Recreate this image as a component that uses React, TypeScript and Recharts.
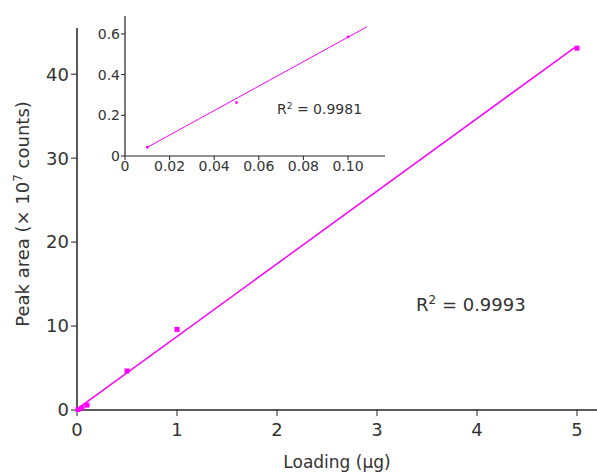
import React from "react";
import { ComposedChart, Scatter, Line, XAxis, YAxis } from "recharts";

// Main calibration data
const mainLoading = [0.01, 0.05, 0.1, 0.5, 1, 5];
const mainArea = [0.05, 0.26, 0.58, 4.65, 9.6, 43.1];
const mainFitX = [0, 4.98];
const mainFitY = [0.1, 43.2];
const mainXTicks = [0, 1, 2, 3, 4, 5];
const mainYTicks = [0, 10, 20, 30, 40];
const mainR2 = "0.9993";

// Inset data (low loading)
const insetLoading = [0.01, 0.05, 0.1];
const insetArea = [0.043, 0.263, 0.585];
const insetFitX = [0.0097, 0.1085];
const insetFitY = [0.041, 0.635];
const insetXTicks = [0, 0.02, 0.04, 0.06, 0.08, 0.1];
const insetYTicks = [0, 0.2, 0.4, 0.6];
const insetR2 = "0.9981";

const MAGENTA = "#ff00ff";
const TEXT = "#333333";
const AXIS = "#222222";
const FONT = "'DejaVu Sans', Verdana, sans-serif";

const mainPoints = mainLoading.map((x, i) => ({ x, y: mainArea[i] }));
const mainFit = mainFitX.map((x, i) => ({ x, y: mainFitY[i] }));
const insetPoints = insetLoading.map((x, i) => ({ x, y: insetArea[i] }));
const insetFit = insetFitX.map((x, i) => ({ x, y: insetFitY[i] }));

const square = (s: number) => (props: any) => (
  <rect x={props.cx - s / 2} y={props.cy - s / 2} width={s} height={s} fill={MAGENTA} />
);

export default function App() {
  return (
    <div style={{ position: "absolute", left: 0, top: 0, width: 597, height: 473, background: "#fff", fontFamily: FONT }}>
      <div style={{ position: "absolute", left: 0, top: 0 }}>
        <ComposedChart width={597} height={473} margin={{ top: 28, right: 0, bottom: 0, left: 0 }}>
          <XAxis
            type="number"
            dataKey="x"
            domain={[0, 5.2]}
            ticks={mainXTicks}
            height={63}
            axisLine={{ stroke: AXIS, strokeWidth: 1.5 }}
            tickLine={{ stroke: AXIS }}
            tickSize={6}
            tick={{ fill: TEXT, fontSize: 18, fontFamily: FONT }}
            tickMargin={7}
          />
          <YAxis
            type="number"
            dataKey="y"
            domain={[0, 45.5]}
            ticks={mainYTicks}
            width={77}
            axisLine={{ stroke: AXIS, strokeWidth: 1.5 }}
            tickLine={{ stroke: AXIS }}
            tickSize={6}
            tick={{ fill: TEXT, fontSize: 18, fontFamily: FONT }}
            tickMargin={2}
          />
          <Line data={mainFit} dataKey="y" stroke={MAGENTA} strokeWidth={1.5} dot={false} isAnimationActive={false} />
          <Scatter data={mainPoints} dataKey="y" shape={square(5)} isAnimationActive={false} />
        </ComposedChart>
      </div>

      <div style={{ position: "absolute", left: 80, top: 0 }}>
        <ComposedChart width={310} height={180} margin={{ top: 16, right: 5, bottom: 0, left: 0 }}>
          <XAxis
            type="number"
            dataKey="x"
            domain={[0, 0.1166]}
            ticks={insetXTicks}
            tickFormatter={(v: number) => (v === 0 ? "0" : v.toFixed(2))}
            height={24}
            axisLine={{ stroke: AXIS, strokeWidth: 1.2 }}
            tickLine={{ stroke: AXIS }}
            tickSize={4}
            tick={{ fill: TEXT, fontSize: 14, fontFamily: FONT }}
            tickMargin={1}
          />
          <YAxis
            type="number"
            dataKey="y"
            domain={[0, 0.688]}
            ticks={insetYTicks}
            tickFormatter={(v: number) => (v === 0 ? "0" : v.toFixed(1))}
            width={45}
            axisLine={{ stroke: AXIS, strokeWidth: 1.2 }}
            tickLine={{ stroke: AXIS }}
            tickSize={4}
            tick={{ fill: TEXT, fontSize: 14, fontFamily: FONT }}
            tickMargin={1}
          />
          <Line data={insetFit} dataKey="y" stroke={MAGENTA} strokeWidth={1} dot={false} isAnimationActive={false} />
          <Scatter data={insetPoints} dataKey="y" shape={square(2.5)} isAnimationActive={false} />
        </ComposedChart>
      </div>

      <div style={{ position: "absolute", left: 416, top: 294, fontSize: 18, color: TEXT, whiteSpace: "nowrap", lineHeight: "22px" }}>
        R<sup style={{ fontSize: 12, verticalAlign: "7px", lineHeight: 0 }}>2</sup> = {mainR2}
      </div>
      <div style={{ position: "absolute", left: 277, top: 101, fontSize: 14, color: TEXT, whiteSpace: "nowrap", lineHeight: "16px" }}>
        R<sup style={{ fontSize: 9, verticalAlign: "5px", lineHeight: 0 }}>2</sup> = {insetR2}
      </div>
      <div style={{ position: "absolute", left: 0, top: 451, width: 674, textAlign: "center", fontSize: 17, color: TEXT, lineHeight: "22px" }}>
        Loading (µg)
      </div>
      <div
        style={{
          position: "absolute",
          left: 23,
          top: 214,
          transform: "translate(-50%, -50%) rotate(-90deg)",
          fontSize: 18,
          color: TEXT,
          whiteSpace: "nowrap",
          lineHeight: "22px",
        }}
      >
        Peak area (× 10<sup style={{ fontSize: 12, verticalAlign: "7px", lineHeight: 0 }}>7</sup> counts)
      </div>
    </div>
  );
}
